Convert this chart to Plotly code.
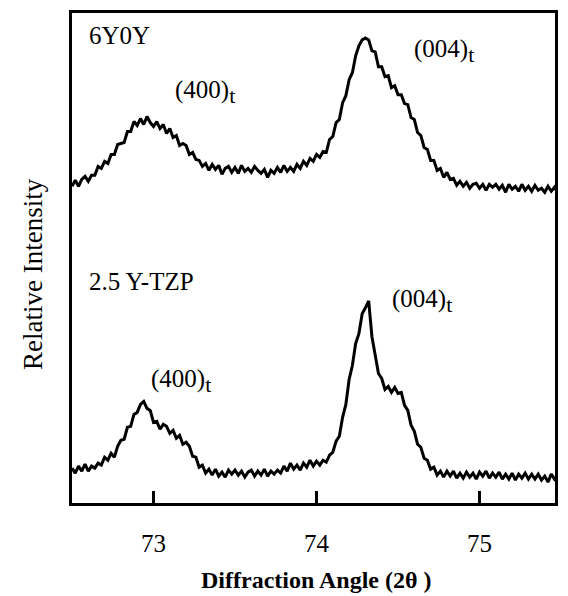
import plotly.graph_objects as go

# 2-theta grid (degrees), step 0.02 from 72.50 to 75.50
angle_start = 72.50
angle_step = 0.02

# 6Y0Y relative intensity (arbitrary units)
int_6y0y = [
    318, 324, 318, 325, 328, 323, 329, 329, 338, 336,
    343, 341, 350, 350, 360, 361, 362, 373, 373, 383,
    379, 386, 380, 388, 382, 378, 383, 376, 380, 371,
    376, 367, 369, 359, 361, 359, 350, 352, 345, 344,
    338, 341, 334, 340, 335, 339, 330, 336, 338, 332,
    337, 331, 339, 333, 336, 332, 338, 334, 331, 335,
    327, 334, 331, 337, 332, 339, 333, 337, 333, 340,
    336, 343, 339, 346, 343, 350, 347, 353, 352, 365,
    368, 382, 385, 402, 409, 425, 432, 449, 459, 465,
    467, 465, 454, 453, 438, 438, 428, 429, 417, 419,
    410, 410, 401, 400, 387, 385, 372, 369, 357, 355,
    344, 344, 334, 336, 327, 332, 325, 326, 319, 323,
    318, 322, 316, 320, 321, 316, 320, 314, 320, 317,
    320, 315, 319, 312, 320, 315, 318, 313, 320, 314,
    318, 313, 319, 314, 316, 312, 318, 313, 317, 311, 316,
]

# 2.5 Y-TZP relative intensity (arbitrary units)
int_25ytzp = [
    35, 30, 37, 32, 39, 32, 37, 35, 40, 38,
    46, 43, 50, 46, 57, 63, 64, 76, 77, 89,
    91, 99, 102, 95, 93, 81, 82, 74, 79, 77,
    70, 73, 65, 68, 59, 61, 57, 47, 46, 36,
    38, 30, 34, 28, 34, 27, 31, 26, 33, 29,
    33, 28, 32, 26, 31, 33, 27, 32, 28, 34,
    27, 32, 29, 33, 30, 37, 32, 40, 34, 38,
    33, 40, 36, 43, 37, 42, 38, 43, 41, 48,
    51, 62, 67, 86, 99, 124, 138, 160, 170, 190,
    196, 203, 167, 150, 130, 125, 114, 117, 111, 116,
    110, 111, 98, 93, 78, 72, 59, 56, 45, 43,
    34, 36, 28, 32, 26, 32, 27, 32, 25, 30,
    25, 31, 26, 30, 24, 31, 27, 32, 25, 30,
    26, 31, 24, 29, 24, 30, 23, 29, 25, 30,
    24, 29, 24, 29, 23, 27, 21, 29, 24, 28, 25,
]

x_ticks = [73, 74, 75]
x_tick_labels = ["73", "74", "75"]

sample_labels = ["6Y0Y", "2.5 Y-TZP"]
peak_labels = ["(400)<sub><span style='font-size:22px'>t</span></sub>",
               "(004)<sub><span style='font-size:22px'>t</span></sub>"]

angles = [round(angle_start + angle_step * i, 2) for i in range(len(int_6y0y))]

SERIF = "Liberation Serif, Times New Roman, serif"

fig = go.Figure()
for ys in (int_6y0y, int_25ytzp):
    fig.add_trace(go.Scatter(x=angles, y=ys, mode="lines",
                             line=dict(color="black", width=3),
                             showlegend=False, hoverinfo="skip"))

ann = []
def label(text, x, y, yshift=0, size=25):
    ann.append(dict(text=text, x=x, y=y, xref="x", yref="y", showarrow=False,
                    xanchor="left", yanchor="middle", yshift=yshift,
                    font=dict(family=SERIF, size=size, color="black")))

label(sample_labels[0], 72.59, 469)
label(peak_labels[0], 73.12, 408, yshift=5)
label(peak_labels[1], 74.585, 449, yshift=5)
label(sample_labels[1], 72.59, 222)
label(peak_labels[0], 72.97, 118, yshift=4)
label(peak_labels[1], 74.45, 199, yshift=4)

ann.append(dict(text="Relative Intensity", x=-0.081, y=0.467, xref="paper", yref="paper",
                showarrow=False, textangle=-90, xanchor="center", yanchor="middle",
                font=dict(family=SERIF, size=27, color="black")))
ann.append(dict(text="<b>Diffraction Angle (2θ )</b>", x=0.505, y=-0.157, xref="paper",
                yref="paper", showarrow=False, xanchor="center", yanchor="middle",
                font=dict(family=SERIF, size=24, color="black")))

# the page body adds an 8px offset and clips at its width, so the figure is
# sized to stay inside the visible window
fig.update_layout(
    width=552, height=588,
    margin=dict(l=64, r=2, t=3, b=93),
    paper_bgcolor="white", plot_bgcolor="white",
    annotations=ann,
    xaxis=dict(range=[72.5, 75.463], tickvals=x_ticks, ticktext=x_tick_labels,
               ticks="inside", ticklen=12, tickwidth=2.5, tickcolor="black",
               showgrid=False, zeroline=False, showline=True, linecolor="black",
               linewidth=3, mirror=True, ticklabelstandoff=16,
               tickfont=dict(family=SERIF, size=25, color="black")),
    yaxis=dict(range=[0, 492], showticklabels=False, ticks="", showgrid=False,
               zeroline=False, showline=True, linecolor="black", linewidth=3,
               mirror=True),
)

fig.write_html("out.html")
